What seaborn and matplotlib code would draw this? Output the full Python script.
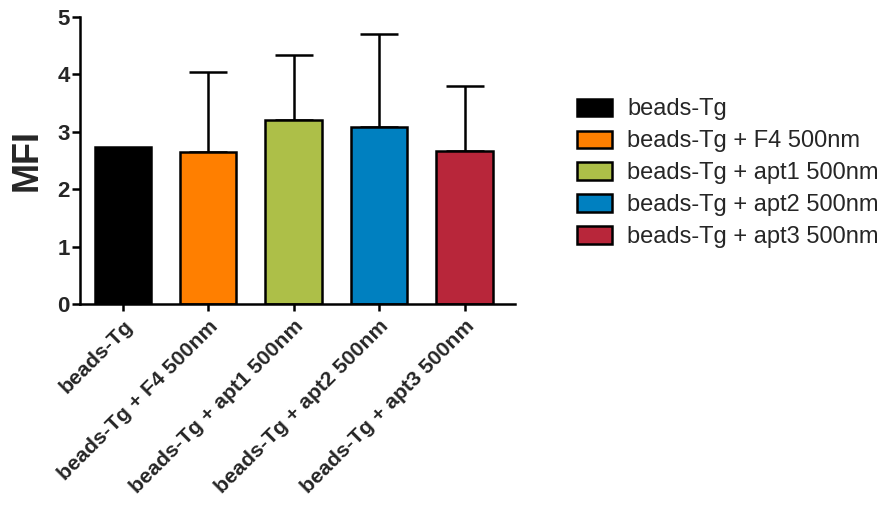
import matplotlib
matplotlib.use("Agg")
import matplotlib.pyplot as plt
import matplotlib.patches as mpatches
import seaborn as sns
import pandas as pd

# Group labels, mean MFI and upper SD
groups = ["beads-Tg", "beads-Tg + F4 500nm", "beads-Tg + apt1 500nm",
          "beads-Tg + apt2 500nm", "beads-Tg + apt3 500nm"]
mfi = [2.74, 2.65, 3.20, 3.08, 2.67]
sd = [0.0, 1.39, 1.13, 1.62, 1.13]
colors = ["#000000", "#FF7F00", "#ADBF48", "#0080C0", "#B8263A"]
y_ticks = [0, 1, 2, 3, 4, 5]

sns.set_theme(style="ticks")
plt.rcParams["font.family"] = ["Liberation Sans", "DejaVu Sans"]

df = pd.DataFrame({"group": groups, "MFI": mfi, "sd": sd})

fig = plt.figure(figsize=(8.83, 5.05), dpi=100)
ax = fig.add_axes([0.0906, 0.3974, 0.4927, 0.5697])

# upper-only error bars, drawn first so the bars sit over the stems
for i, (m, e) in enumerate(zip(mfi, sd)):
    if e > 0:
        ax.errorbar(i, m, yerr=[[0], [e]], fmt="none", ecolor="black",
                    elinewidth=1.8, capsize=14, capthick=1.8, zorder=1)

sns.barplot(data=df, x="group", y="MFI", hue="group", palette=colors,
            order=groups, hue_order=groups, dodge=False, legend=False,
            saturation=1, edgecolor="black", linewidth=1.8, width=0.66,
            ax=ax, zorder=2)

ax.set_xlim(-0.5, 4.59)
ax.set_ylim(0, 5)
ax.set_yticks(y_ticks)
ax.set_xlabel("")
ax.set_ylabel("MFI", fontsize=26, fontweight="bold", labelpad=9)

for s in ["top", "right"]:
    ax.spines[s].set_visible(False)
for s in ["left", "bottom"]:
    ax.spines[s].set_linewidth(1.8)
    ax.spines[s].set_color("black")

ax.tick_params(axis="y", length=5.5, width=1.8, labelsize=16, pad=2, color="black")
ax.tick_params(axis="x", length=5, width=1.8, labelsize=15.3, pad=4, color="black")
for lab in ax.get_yticklabels():
    lab.set_fontweight("bold")
ax.set_xticks(range(len(groups)))
ax.set_xticklabels(groups, rotation=45, ha="right", va="top",
                   rotation_mode="anchor", fontweight="bold")

handles = [mpatches.Patch(facecolor=c, edgecolor="black", linewidth=1.8, label=g)
           for g, c in zip(groups, colors)]
fig.legend(handles=handles, loc="upper left", bbox_to_anchor=(0.654, 0.805),
           frameon=False, fontsize=17, handlelength=1.45, handleheight=0.75,
           handletextpad=0.65, labelspacing=0.42, borderpad=0, borderaxespad=0)

fig.savefig("out.png", dpi=100)
